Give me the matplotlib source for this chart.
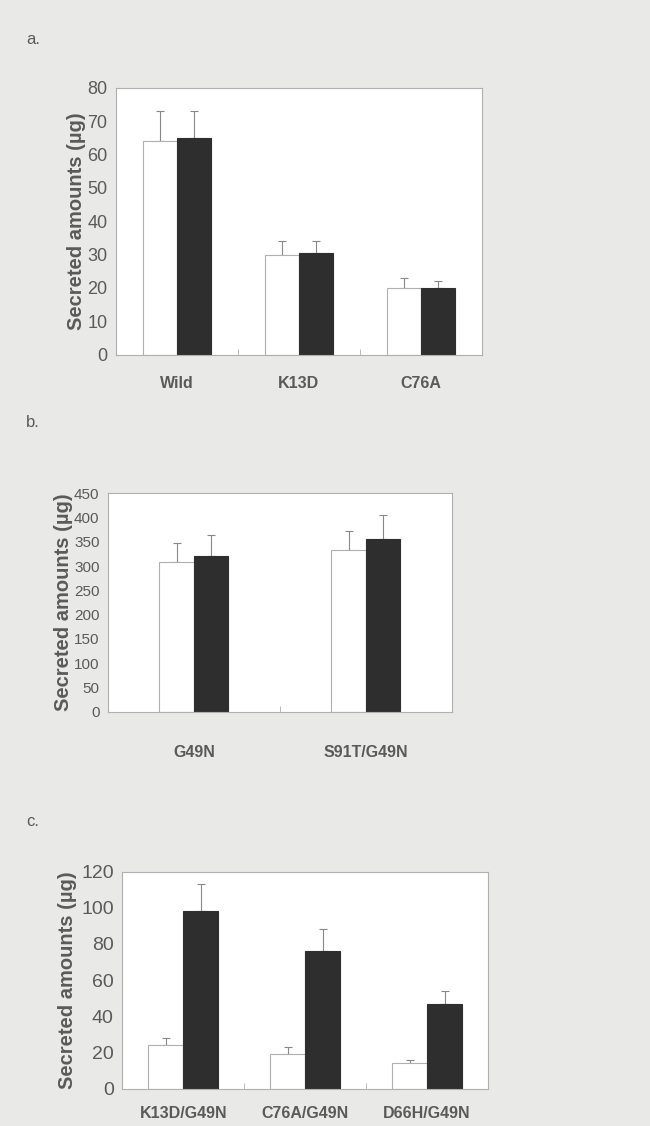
import numpy as np
import matplotlib
matplotlib.use("Agg")
import matplotlib.pyplot as plt

plt.rcParams['font.family'] = ['Liberation Sans Narrow', 'Liberation Sans', 'DejaVu Sans']

# panel a
cats_a = ["Wild", "K13D", "C76A"]
white_a = [64, 30, 20]
white_a_err = [9, 4, 3]
black_a = [65, 30.5, 20]
black_a_err = [8, 3.5, 2]

# panel b
cats_b = ["G49N", "S91T/G49N"]
white_b = [308, 333]
white_b_err = [39, 39]
black_b = [320, 355]
black_b_err = [43, 50]

# panel c
cats_c = ["K13D/G49N", "C76A/G49N", "D66H/G49N"]
white_c = [24, 19.5, 14.5]
white_c_err = [4, 3.5, 1.5]
black_c = [98, 76, 47]
black_c_err = [15, 12, 7]

bg = "#e9e9e7"
txt = "#5a5a5a"
dark = "#2e2e2e"
edge = "#b0b0b0"

fig = plt.figure(figsize=(6.5, 11.26), dpi=100)
fig.patch.set_facecolor(bg)


def panel(rect, cats, w, we, b, be, ymax, step, bw, tick_fs, xpad, lpad):
    ax = fig.add_axes(rect)
    ax.set_facecolor("white")
    x = np.arange(len(cats))
    ax.bar(x - bw / 2, w, bw, color="white", edgecolor=edge, linewidth=0.8, zorder=2)
    ax.bar(x + bw / 2, b, bw, color=dark, edgecolor=dark, linewidth=0.8, zorder=2)
    ax.errorbar(x - bw / 2, w, yerr=[np.zeros(len(w)), we], fmt="none",
                ecolor="#888888", elinewidth=0.8, capsize=3, capthick=0.8, zorder=1)
    ax.errorbar(x + bw / 2, b, yerr=[np.zeros(len(b)), be], fmt="none",
                ecolor="#888888", elinewidth=0.8, capsize=3, capthick=0.8, zorder=1)
    ax.set_xlim(-0.5, len(cats) - 0.5)
    ax.set_ylim(0, ymax)
    ax.set_yticks(np.arange(0, ymax + 1, step))
    ax.set_xticks(x)
    ax.set_xticklabels(cats, fontsize=11.5, fontweight="bold", color=txt,
                       family=['Liberation Sans', 'DejaVu Sans'])
    ax.set_xticks(np.arange(0.5, len(cats) - 0.5), minor=True)
    ax.tick_params(axis="x", which="major", length=0, pad=xpad)
    ax.tick_params(axis="x", which="minor", length=4, direction="in", color=edge)
    ax.tick_params(axis="y", length=0, pad=6, labelsize=tick_fs, labelcolor=txt)
    ax.set_ylabel("Secreted amounts (µg)", fontsize=14.5, fontweight="bold", color=txt,
                  family=['Liberation Sans', 'DejaVu Sans'], labelpad=lpad)
    for s in ax.spines.values():
        s.set_color(edge)
        s.set_linewidth(0.8)
    return ax


panel([0.178, 0.685, 0.563, 0.237], cats_a, white_a, white_a_err, black_a, black_a_err,
      80, 10, 0.28, 13, 15, 1)
panel([0.166, 0.368, 0.529, 0.194], cats_b, white_b, white_b_err, black_b, black_b_err,
      450, 50, 0.2, 11, 24, 1)
panel([0.188, 0.033, 0.563, 0.193], cats_c, white_c, white_c_err, black_c, black_c_err,
      120, 20, 0.285, 14, 12, 3)

fig.text(0.04, 1 - 40 / 1126, "a.", fontsize=12, color=txt, va="center")
fig.text(0.04, 1 - 422 / 1126, "b.", fontsize=12, color=txt, va="center")
fig.text(0.04, 1 - 822 / 1126, "c.", fontsize=12, color=txt, va="center")

fig.savefig("out.png", dpi=100, facecolor=bg)
